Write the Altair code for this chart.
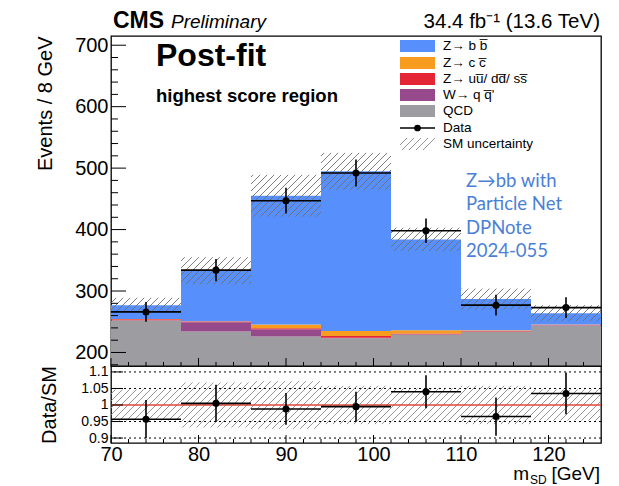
import altair as alt
import pandas as pd
import numpy as np

# ---------------- data ----------------
bin_lo = [70, 78, 86, 94, 102, 110, 118]
bin_hi = [78, 86, 94, 102, 110, 118, 126]
bin_mid = [74, 82, 90, 98, 106, 114, 122]

qcd = [252, 234, 226, 223, 229, 234, 244]
w_qq = [0.5, 15, 12, 0.8, 0.5, 0.3, 0.3]
z_light = [1.5, 1.5, 1.5, 3, 1.5, 1.2, 1.0]
z_cc = [0.5, 0.5, 6, 8, 5, 0.5, 0.3]
z_bb = [22.5, 82, 209.5, 260, 148, 51, 18.4]
sm_unc = [12, 22, 34, 30, 19, 17, 13]

data_vals = [266, 334, 447, 492, 398, 277, 273]
data_err = [16, 18, 21, 22, 20, 17, 17]

ratio_vals = [0.957, 1.005, 0.988, 0.995, 1.04, 0.965, 1.035]
ratio_err = [0.058, 0.056, 0.048, 0.045, 0.05, 0.058, 0.063]
ratio_unc = [0.047, 0.068, 0.072, 0.058, 0.05, 0.058, 0.047]

proc_names = ["QCD", "W→ q q̅'", "Z→ uu̅/ dd̅/ ss̅", "Z→ c c̅", "Z→ b b̅"]
proc_colors = ["#9c9ca1", "#964a8b", "#e42536", "#f89c20", "#5790fc"]
proc_vals = [qcd, w_qq, z_light, z_cc, z_bb]

main_ticks = [200, 300, 400, 500, 600, 700]
ratio_ticks = [0.9, 0.95, 1.0, 1.05, 1.1]
x_ticks = [70, 80, 90, 100, 110, 120]

# ---------------- layout constants ----------------
W = 490
H_MAIN = 330
H_RATIO = 77
X_DOM = [70, 126]
Y_DOM = [178, 715]
R_DOM = [0.885, 1.118]
FONT = "Liberation Sans"

# ---------------- derived tables ----------------
rows = []
for j in range(len(bin_lo)):
    base = 0.0
    for name, vals in zip(proc_names, proc_vals):
        rows.append(dict(lo=bin_lo[j], hi=bin_hi[j], y0=base, y1=base + vals[j], proc=name))
        base += vals[j]
stack_df = pd.DataFrame(rows)
total = [sum(v[j] for v in proc_vals) for j in range(len(bin_lo))]

data_df = pd.DataFrame(dict(lo=bin_lo, hi=bin_hi, mid=bin_mid, v=data_vals,
                            vlo=[d - e for d, e in zip(data_vals, data_err)],
                            vhi=[d + e for d, e in zip(data_vals, data_err)]))
ratio_df = pd.DataFrame(dict(lo=bin_lo, hi=bin_hi, mid=bin_mid, v=ratio_vals,
                             vlo=[d - e for d, e in zip(ratio_vals, ratio_err)],
                             vhi=[d + e for d, e in zip(ratio_vals, ratio_err)]))


def hatch(lo, hi, ylo, yhi, ydom, height, sp=7.0):
    sx = W / (X_DOM[1] - X_DOM[0])
    sy = height / (ydom[1] - ydom[0])
    out = []
    for a, b, c, d in zip(lo, hi, ylo, yhi):
        X0, X1 = (a - X_DOM[0]) * sx, (b - X_DOM[0]) * sx
        Y0, Y1 = (c - ydom[0]) * sy, (d - ydom[0]) * sy
        k = np.floor((Y0 - X1) / sp)
        while k * sp < Y1 - X0:
            cc = k * sp
            xs, xe = max(X0, Y0 - cc), min(X1, Y1 - cc)
            if xe > xs:
                out.append(dict(hx=xs / sx + X_DOM[0], hx2=xe / sx + X_DOM[0],
                                hy=(xs + cc) / sy + ydom[0], hy2=(xe + cc) / sy + ydom[0]))
            k += 1
    return pd.DataFrame(out)


hatch_main = hatch(bin_lo, bin_hi, [t - u for t, u in zip(total, sm_unc)],
                   [t + u for t, u in zip(total, sm_unc)], Y_DOM, H_MAIN)
hatch_ratio = hatch(bin_lo, bin_hi, [1 - u for u in ratio_unc], [1 + u for u in ratio_unc],
                    R_DOM, H_RATIO)

xscale = alt.Scale(domain=X_DOM, nice=False, zero=False)
yscale = alt.Scale(domain=Y_DOM, nice=False, zero=False)
rscale = alt.Scale(domain=R_DOM, nice=False, zero=False)

yaxis = alt.Axis(values=main_ticks, labelFontSize=20, labelPadding=3, ticks=False, tickSize=0,
                 domain=False, grid=False, labelOverlap=False, labelColor="black",
                 title="Events / 8 GeV", titleFontSize=20, titleFontWeight="normal",
                 titleAnchor="end", titleX=-60, titleBaseline="alphabetic",
                 titleColor="black")
raxis = alt.Axis(values=ratio_ticks, labelFontSize=14, labelPadding=3, ticks=False, tickSize=0,
                 domain=False, grid=False, labelOverlap=False, labelColor="black",
                 labelExpr="datum.value + ''",
                 title="Data/SM", titleFontSize=20, titleFontWeight="normal",
                 titleX=-56, titleBaseline="alphabetic", titleColor="black")
rxaxis = alt.Axis(values=x_ticks, labelFontSize=20, labelPadding=1, ticks=False, tickSize=0,
                  domain=False, grid=False, labelOverlap=False, labelFlush=False,
                  labelColor="black", title=None)


def MX(f):
    return alt.X(f, type="quantitative", scale=xscale, axis=None)


def MY(f):
    return alt.Y(f, type="quantitative", scale=yscale, axis=yaxis)


def RX(f):
    return alt.X(f, type="quantitative", scale=xscale, axis=rxaxis)


def RY(f):
    return alt.Y(f, type="quantitative", scale=rscale, axis=raxis)


one = pd.DataFrame({"a": [0]})

# ---------------- main panel ----------------
stack = alt.Chart(stack_df).mark_rect(clip=True).encode(
    x=MX("lo"), x2="hi", y=MY("y0"), y2="y1",
    color=alt.Color("proc:N", scale=alt.Scale(domain=proc_names, range=proc_colors), legend=None),
)
hatch_m = alt.Chart(hatch_main).mark_rule(color="#6f6f6f", strokeWidth=0.9, clip=True).encode(
    x=MX("hx"), x2="hx2", y=MY("hy"), y2="hy2")
d_h = alt.Chart(data_df).mark_rule(color="black", strokeWidth=1.6).encode(x=MX("lo"), x2="hi", y=MY("v"))
d_v = alt.Chart(data_df).mark_rule(color="black", strokeWidth=1.6).encode(x=MX("mid"), y=MY("vlo"), y2="vhi")
d_p = alt.Chart(data_df).mark_circle(color="black", size=50, opacity=1).encode(x=MX("mid"), y=MY("v"))

ymaj = alt.Chart(pd.DataFrame({"t": main_ticks})).mark_rule(color="black").encode(
    y=MY("t"), x=alt.value(0), x2=alt.value(15))
ymin = alt.Chart(pd.DataFrame({"t": [t for t in range(180, 720, 20) if t % 100]})).mark_rule(color="black").encode(
    y=MY("t"), x=alt.value(0), x2=alt.value(7))
xmaj = alt.Chart(pd.DataFrame({"t": x_ticks})).mark_rule(color="black").encode(
    x=MX("t"), y=alt.value(H_MAIN), y2=alt.value(H_MAIN - 8))
xmin = alt.Chart(pd.DataFrame({"t": [t for t in range(72, 126, 2) if t % 10]})).mark_rule(color="black").encode(
    x=MX("t"), y=alt.value(H_MAIN), y2=alt.value(H_MAIN - 4))


def txt(s, x, y, size, weight="normal", style="normal", align="left", color="black",
        font=FONT, baseline="alphabetic"):
    return alt.Chart(one).mark_text(text=s, fontSize=size, fontWeight=weight, fontStyle=style,
                                    align=align, baseline=baseline, color=color, font=font).encode(
        x=alt.value(x), y=alt.value(y))


texts = [
    txt("CMS", 2, -8, 23, weight="bold"),
    txt("Preliminary", 60, -8, 19, style="italic"),
    txt("34.4 fb⁻¹ (13.6 TeV)", 489, -8, 20.5, align="right"),
    txt("Post-fit", 45, 30, 32, weight="bold"),
    txt("highest score region", 45, 66, 18.5, weight="bold"),
]
blue_lines = ["Z→bb with", "Particle Net", "DPNote", "2024-055"]
for i, s in enumerate(blue_lines):
    texts.append(txt(s, 355, 145 + 23.3 * i, 18.5, color="#4b7fd6", font="Lato", baseline="middle"))

# legend
leg = []
leg_y = [10, 27, 43, 59, 75, 92, 108]
leg_labels = ["Z→ b b̅", "Z→ c c̅", "Z→ uu̅/ dd̅/ ss̅", "W→ q q̅'", "QCD", "Data", "SM uncertainty"]
leg_cols = ["#5790fc", "#f89c20", "#e42536", "#964a8b", "#9c9ca1"]
for i in range(5):
    leg.append(alt.Chart(one).mark_rect(color=leg_cols[i]).encode(
        x=alt.value(289), x2=alt.value(324), y=alt.value(leg_y[i] - 6), y2=alt.value(leg_y[i] + 6)))
leg.append(alt.Chart(one).mark_rule(color="black", strokeWidth=1.5).encode(
    x=alt.value(289), x2=alt.value(324), y=alt.value(leg_y[5])))
leg.append(alt.Chart(one).mark_circle(color="black", size=45, opacity=1).encode(
    x=alt.value(306.5), y=alt.value(leg_y[5])))
for k in range(6):
    x0 = 289 + 7 * k - 12
    xa, xb = max(289, x0), min(324, x0 + 12)
    if xb > xa:
        leg.append(alt.Chart(one).mark_rule(color="#8a8a8a", strokeWidth=0.9).encode(
            x=alt.value(xa), x2=alt.value(xb),
            y=alt.value(leg_y[6] + 6 - (xa - x0)), y2=alt.value(leg_y[6] + 6 - (xb - x0))))
for i, s in enumerate(leg_labels):
    leg.append(txt(s, 332, leg_y[i], 13.5, baseline="middle"))

main = alt.layer(stack, hatch_m, d_h, d_v, d_p, ymaj, ymin, xmaj, xmin, *texts, *leg).properties(
    width=W, height=H_MAIN)

# ---------------- ratio panel ----------------
grid = alt.Chart(pd.DataFrame({"t": [0.9, 0.95, 1.05, 1.1]})).mark_rule(
    color="black", strokeDash=[2, 3], strokeWidth=1).encode(y=RY("t"))
hatch_r = alt.Chart(hatch_ratio).mark_rule(color="#8a8a8a", strokeWidth=0.9, clip=True).encode(
    x=RX("hx"), x2="hx2", y=RY("hy"), y2="hy2")
redline = alt.Chart(pd.DataFrame({"t": [1.0]})).mark_rule(color="#e0463a", strokeWidth=1.3).encode(y=RY("t"))
r_h = alt.Chart(ratio_df).mark_rule(color="black", strokeWidth=1.6).encode(x=RX("lo"), x2="hi", y=RY("v"))
r_v = alt.Chart(ratio_df).mark_rule(color="black", strokeWidth=1.6).encode(x=RX("mid"), y=RY("vlo"), y2="vhi")
r_p = alt.Chart(ratio_df).mark_circle(color="black", size=50, opacity=1).encode(x=RX("mid"), y=RY("v"))
rymaj = alt.Chart(pd.DataFrame({"t": ratio_ticks})).mark_rule(color="black").encode(
    y=RY("t"), x=alt.value(0), x2=alt.value(12))
rxmaj = alt.Chart(pd.DataFrame({"t": x_ticks})).mark_rule(color="black").encode(
    x=RX("t"), y=alt.value(H_RATIO), y2=alt.value(H_RATIO - 8))
rxmin = alt.Chart(pd.DataFrame({"t": [t for t in range(72, 126, 2) if t % 10]})).mark_rule(color="black").encode(
    x=RX("t"), y=alt.value(H_RATIO), y2=alt.value(H_RATIO - 4))
xt = [
    txt("m", 418, 114, 19, align="right"),
    txt("SD", 419, 118, 12),
    txt("[GeV]", 489, 114, 19, align="right"),
]
ratio = alt.layer(grid, hatch_r, redline, r_h, r_v, r_p, rymaj, rxmaj, rxmin, *xt).properties(
    width=W, height=H_RATIO)

chart = alt.vconcat(main, ratio, spacing=0, bounds="flush").properties(
    padding={"left": 26, "top": 1, "right": 5, "bottom": 1}
).configure_view(stroke="black", strokeWidth=1.3).configure_axis(
    labelFont=FONT, titleFont=FONT
).configure_text(font=FONT)

chart.save("out.html", embed_options={"renderer": "svg", "actions": False})
